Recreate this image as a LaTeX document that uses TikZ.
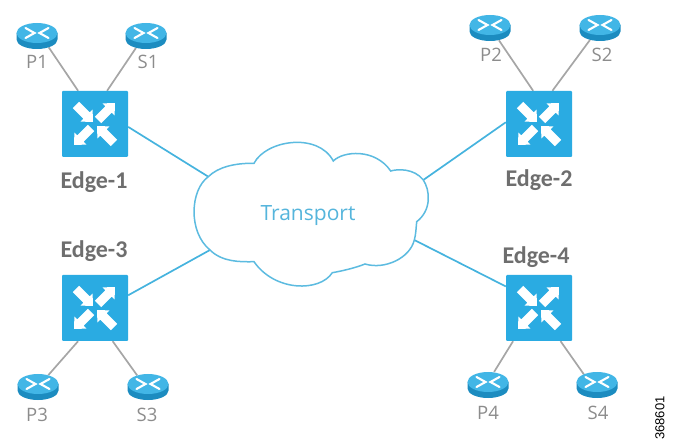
\documentclass[tikz,border=0pt]{standalone}
\usepackage{fontspec}
\setmainfont{Open Sans}
\newfontfamily\edgefont{Carlito}
\newfontfamily\tagfont{Liberation Sans}
\usetikzlibrary{backgrounds,shapes.geometric}
\definecolor{swblue}{HTML}{2AABE2}
\definecolor{linkblue}{HTML}{45B3DE}
\definecolor{cloudblue}{HTML}{5CBBE0}
\definecolor{textblue}{HTML}{55B5DC}
\definecolor{linkgray}{HTML}{A6A6A6}
\definecolor{labelgray}{HTML}{8C8C8C}
\definecolor{edgegray}{HTML}{6E6E6E}
\definecolor{rtop}{HTML}{42B6E6}
\definecolor{rside}{HTML}{1C8CC0}
\tikzset{
  switchbox/.style={rectangle,fill=swblue,draw=none,rounded corners=1pt,minimum size=66pt,inner sep=0pt},
  routerbox/.style={ellipse,draw=none,minimum width=41pt,minimum height=27pt,inner sep=0pt},
  edgelabel/.style={font=\edgefont\bfseries\fontsize{24}{24}\selectfont,text=edgegray,inner sep=0pt},
  hostlabel/.style={font=\fontsize{18.5}{18.5}\selectfont,text=labelgray,inner sep=0pt},
  uplink/.style={draw=linkblue,line width=1.7pt},
  access/.style={draw=linkgray,line width=1.7pt},
  % one white block arrow of the switch glyph, pointing along +x from its tail
  pics/blockarrow/.style={code={
    \fill[white] (0,-4.5) -- (15,-4.5) -- (15,-8.5) -- (24,0) -- (15,8.5) -- (15,4.5) -- (0,4.5) -- cycle;
  }},
  pics/switchglyph/.style={code={
    \pic[shift={(-19,-19)},rotate=-45] {blockarrow};
    \pic[shift={(3,-4)},rotate=45] {blockarrow};
    \pic[shift={(-4,4)},rotate=-135] {blockarrow};
    \pic[shift={(19,19)},rotate=135] {blockarrow};
  }},
  pics/routerglyph/.style={code={
    \fill[rside] (-20.5,-3) -- (-20.5,3.5) arc[start angle=180,end angle=360,x radius=20.5,y radius=-9.5] -- (20.5,-3) -- cycle;
    \fill[rtop] (0,-3) ellipse[x radius=20.5,y radius=10];
    \draw[white,line width=2.1pt,line cap=round] (-11.5,-8) -- (-2.5,-3) -- (-11.5,2);
    \draw[white,line width=2.1pt,line cap=round] (11.5,-8) -- (2.5,-3) -- (11.5,2);
  }}
}
\begin{document}
\begin{tikzpicture}[x=1pt,y=-1pt]
\useasboundingbox (0,0) rectangle (675,446);

% edge switches
\node[switchbox] (E1) at (95,124) {};
\node[switchbox] (E2) at (539,124) {};
\node[switchbox] (E3) at (95,308) {};
\node[switchbox] (E4) at (539,308) {};
\foreach \sw in {E1,E2,E3,E4} \pic at (\sw) {switchglyph};

% routers
\node[routerbox] (P1) at (37,36) {};
\node[routerbox] (S1) at (146,36) {};
\node[routerbox] (P2) at (490,28) {};
\node[routerbox] (S2) at (600,28) {};
\node[routerbox] (P3) at (38,387) {};
\node[routerbox] (S3) at (148,387) {};
\node[routerbox] (P4) at (488,385) {};
\node[routerbox] (S4) at (597,385) {};
\foreach \rt in {P1,S1,P2,S2,P3,S3,P4,S4} \pic at (\rt) {routerglyph};

% transport cloud, with its attachment points on the outline
\draw[cloudblue,line width=1.5pt,fill=white]
  (208.3,176.7) coordinate (c1)
  .. controls (218,167) and (235,163) .. (254,163.3)
  .. controls (266,140) and (318,132) .. (333.3,161)
  .. controls (343,151) and (375,148) .. (390.7,171)
  .. controls (397,169) and (414,168) .. (423.3,180) coordinate (c2)
  .. controls (430,190) and (432,210) .. (416.7,221.7)
  .. controls (416,228) and (416,234) .. (414.3,240) coordinate (c4)
  .. controls (410,258) and (385,270) .. (365,264)
  .. controls (355,268) and (342,271) .. (332.3,272.7)
  .. controls (320,292) and (275,292) .. (254,261.7)
  .. controls (240,262) and (222,262) .. (210,250) coordinate (c3)
  .. controls (188,232) and (190,190) .. cycle;
\node[font=\fontsize{21}{21}\selectfont,text=textblue,inner sep=0pt] (transport) at (308,216) {Transport};

% labels
\node[edgelabel] (L1) at (94,182) {Edge-1};
\node[edgelabel] (L2) at (539,180) {Edge-2};
\node[edgelabel] (L3) at (94,251) {Edge-3};
\node[edgelabel] (L4) at (536,257) {Edge-4};
\node[hostlabel] (tP1) at (37,62) {P1};
\node[hostlabel] (tS1) at (148,62) {S1};
\node[hostlabel] (tP2) at (491,55) {P2};
\node[hostlabel] (tS2) at (602,55) {S2};
\node[hostlabel] (tP3) at (37,415) {P3};
\node[hostlabel] (tS3) at (147,415) {S3};
\node[hostlabel] (tP4) at (488,413) {P4};
\node[hostlabel] (tS4) at (598,413) {S4};
\node[font=\tagfont\fontsize{13}{13}\selectfont,text=black,rotate=90,inner sep=0pt] (tag) at (660,418) {368601};

% links sit behind the icons
\begin{scope}[on background layer]
  \draw[uplink] (E1.-5) -- (c1);
  \draw[uplink] (E2.177) -- (c2);
  \draw[uplink] (E3.21.5) -- (c3);
  \draw[uplink] (E4.147.5) -- (c4);
  \draw[access] (P1.-44) -- (E1.117.3);
  \draw[access] (S1.-130) -- (E1.70.5);
  \draw[access] (P2.-54) -- (E2.100.3);
  \draw[access] (S2.-130) -- (E2.68.5);
  \draw[access] (P3.49) -- (E3.-117.3);
  \draw[access] (S3.133) -- (E3.-62.7);
  \draw[access] (P4.65) -- (E4.-128.2);
  \draw[access] (S4.141) -- (E4.-57.5);
\end{scope}
\end{tikzpicture}
\end{document}
